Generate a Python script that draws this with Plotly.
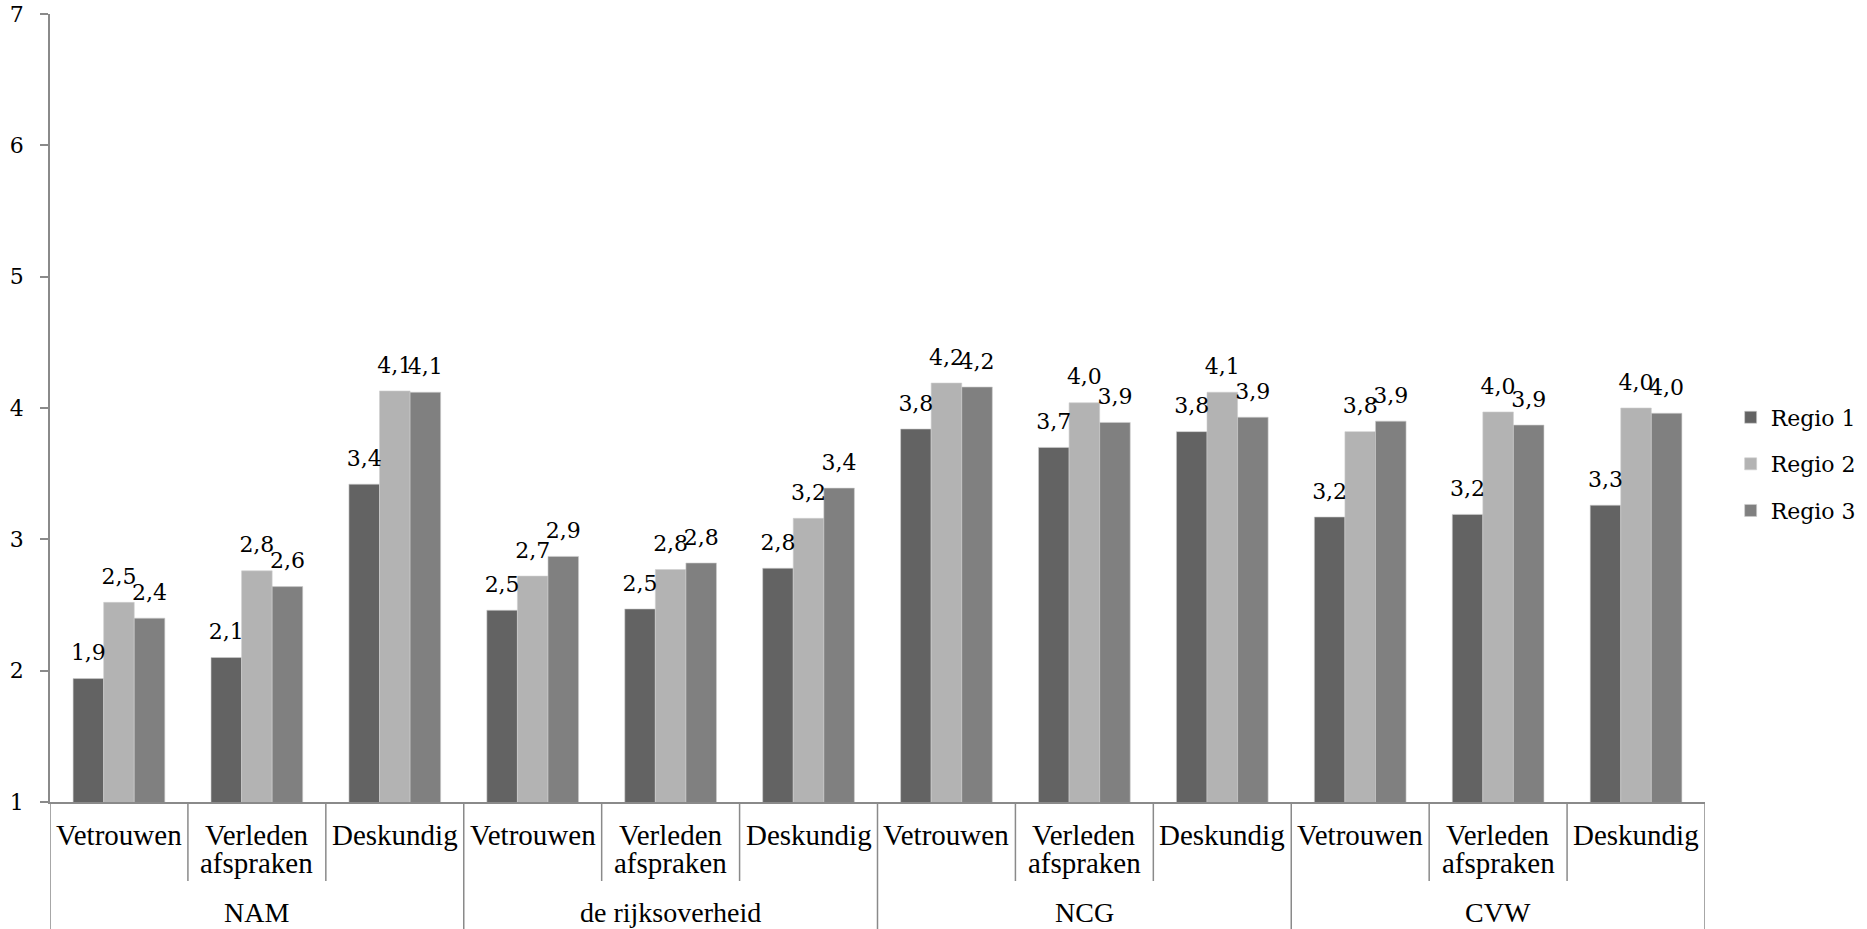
import plotly.graph_objects as go

groups = ["NAM", "de rijksoverheid", "NCG", "CVW"]
aspects = ["Vetrouwen", "Verleden afspraken", "Deskundig"]
series_names = ["Regio 1", "Regio 2", "Regio 3"]

regio1 = [1.94, 2.10, 3.42, 2.46, 2.47, 2.78, 3.84, 3.70, 3.82, 3.17, 3.19, 3.26]
regio2 = [2.52, 2.76, 4.13, 2.72, 2.77, 3.16, 4.19, 4.04, 4.12, 3.82, 3.97, 4.00]
regio3 = [2.40, 2.64, 4.12, 2.87, 2.82, 3.39, 4.16, 3.89, 3.93, 3.90, 3.87, 3.96]

colors = ["#636363", "#b3b3b3", "#808080"]
y_ticks = [1, 2, 3, 4, 5, 6, 7]

NUM_FONT = "Georgia, 'DejaVu Serif', serif"
CAT_FONT = "'Times New Roman', 'Liberation Serif', serif"
AXIS_COLOR = "#8a8a8a"

keys = [f"{g} \u00b7 {a}" for g in groups for a in aspects]

fig = go.Figure()
for name, vals, col in zip(series_names, [regio1, regio2, regio3], colors):
    fig.add_trace(go.Bar(
        x=keys, y=vals, name=name, legendgroup=name,
        marker=dict(color=col, line=dict(color="#cfcfcf", width=0.6)),
        hoverinfo="x+y+name",
    ))
for name, vals in zip(series_names, [regio1, regio2, regio3]):
    fig.add_trace(go.Scatter(
        x=keys, y=vals, mode="markers+text", showlegend=False,
        text=[f"{v:.1f}".replace(".", ",") for v in vals],
        textposition="top center",
        textfont=dict(family=NUM_FONT, size=22, color="black"),
        marker=dict(size=19, opacity=0),
        hoverinfo="skip", cliponaxis=False,
    ))

annotations = []
for i, k in enumerate(keys):
    lines = aspects[i % len(aspects)].split(" ")
    for j, line in enumerate(lines):
        annotations.append(dict(
            x=k, xref="x", y=0, yref="paper", yanchor="top", xanchor="center",
            yshift=-14.5 - 28.5 * j, text=line, showarrow=False,
            font=dict(family=CAT_FONT, size=29, color="black"),
        ))
for gi, g in enumerate(groups):
    annotations.append(dict(
        x=keys[gi * len(aspects) + 1], xref="x", y=0, yref="paper",
        yanchor="top", xanchor="center", yshift=-93, text=g, showarrow=False,
        font=dict(family=CAT_FONT, size=28, color="black"),
    ))

shapes = []
n = len(keys)
for b in range(n + 1):
    is_group = b % len(aspects) == 0
    shapes.append(dict(
        type="line", xref="x", yref="paper", x0=b - 0.5, x1=b - 0.5,
        ysizemode="pixel", yanchor=0, y0=0, y1=-(130 if is_group else 79),
        line=dict(color=AXIS_COLOR, width=1.5),
    ))

fig.update_layout(
    width=1867, height=929,
    margin=dict(l=50, r=162, t=14, b=127, autoexpand=False),
    paper_bgcolor="white", plot_bgcolor="white",
    barmode="group", bargap=0.335, bargroupgap=0,
    scattermode="group", scattergap=0.335,
    showlegend=True,
    legend=dict(
        x=1.0155, xanchor="left", y=0.429, yanchor="middle",
        font=dict(family=NUM_FONT, size=22, color="black"),
        tracegroupgap=15, traceorder="grouped",
        bgcolor="rgba(0,0,0,0)",
    ),
    xaxis=dict(
        type="category", range=[-0.5, n - 0.5], showticklabels=False,
        ticks="", showgrid=False, showline=True, linecolor=AXIS_COLOR,
        linewidth=1.5, zeroline=False, fixedrange=True, automargin=False,
    ),
    yaxis=dict(
        range=[1, 7], tickvals=y_ticks, ticktext=[str(t) for t in y_ticks],
        showgrid=False, zeroline=False, showline=True, linecolor=AXIS_COLOR,
        linewidth=1.5, ticks="outside", ticklen=8, tickcolor=AXIS_COLOR,
        tickwidth=1.5, ticklabelstandoff=12, automargin=False,
        tickfont=dict(family=NUM_FONT, size=22, color="black"),
        fixedrange=True,
    ),
    annotations=annotations,
    shapes=shapes,
)

fig.write_html(
    "out.html",
    config={"displayModeBar": False},
    post_script="document.documentElement.style.margin='0';"
                "document.body.style.margin='0';"
                "document.body.style.overflow='hidden';",
)
